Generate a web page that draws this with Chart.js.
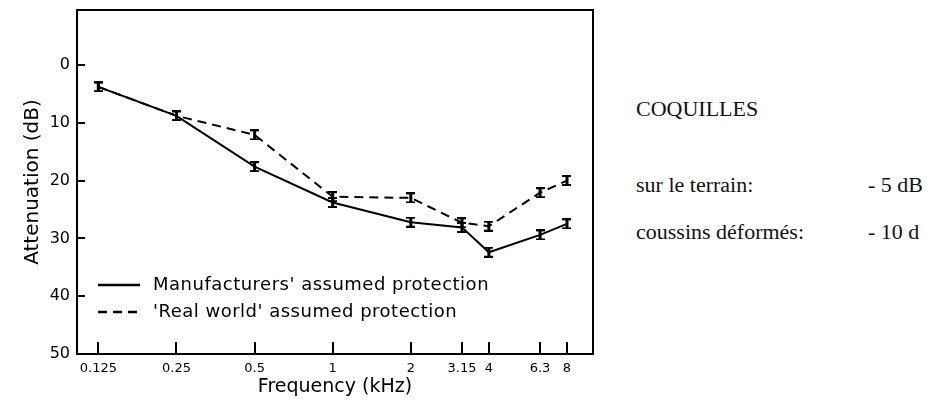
<!DOCTYPE html>
<html>
<head>
<meta charset="utf-8">
<script src="https://cdn.jsdelivr.net/npm/chart.js@4/dist/chart.umd.min.js"></script>
<style>
  html, body { margin: 0; padding: 0; background: #fff; }
  #wrap { position: relative; width: 941px; height: 401px; overflow: hidden; }
  #chartBox { position: absolute; left: 0; top: 0; width: 610px; height: 401px; }
  .note { position: absolute; font-family: "Liberation Serif", "Times New Roman", serif; font-size: 20px; line-height: 20px; color: #111; white-space: nowrap; transform: scaleX(1.1); transform-origin: left center; }
</style>
</head>
<body>
<div id="wrap">
  <div id="chartBox"><canvas id="attChart" width="610" height="401"></canvas></div>
  <div class="note" style="left:636px; top:99px;">COQUILLES</div>
  <div class="note" style="left:636px; top:175px;">sur le terrain:</div>
  <div class="note" style="left:868px; top:175px;">- 5 dB</div>
  <div class="note" style="left:636px; top:222px;">coussins déformés:</div>
  <div class="note" style="left:868px; top:222px;">- 10 d</div>
</div>
<script>
// ---------------------------------------------------------------
//  data
// ---------------------------------------------------------------
const freqs = [0.125, 0.25, 0.5, 1, 2, 3.15, 4, 6.3, 8];
const freqLabels = ['0.125', '0.25', '0.5', '1', '2', '3.15', '4', '6.3', '8'];
const manufacturers = [3.8, 8.8, 17.6, 23.8, 27.2, 28.1, 32.4, 29.4, 27.5];
const realWorld = [3.8, 8.8, 12.1, 22.8, 23.0, 27.3, 27.9, 22.1, 20.0];
const dbTicks = [0, 10, 20, 30, 40, 50];

const seriesNames = ["Manufacturers' assumed protection", "'Real world' assumed protection"];

const FONT = '"DejaVu Sans", sans-serif';

// small "I" shaped marker (the error bar at each point)
function makeMarker() {
  const c = document.createElement('canvas');
  c.width = 9; c.height = 11;
  const g = c.getContext('2d');
  g.fillStyle = '#000';
  g.fillRect(0, 0, 9, 2);
  g.fillRect(3, 0, 3, 11);
  g.fillRect(0, 9, 9, 2);
  return c;
}
const marker = makeMarker();

// frame around the plot + inward tick marks
const framePlugin = {
  id: 'frame',
  afterDraw(chart) {
    const { ctx, chartArea: a, scales } = chart;
    ctx.save();
    ctx.strokeStyle = '#000';
    ctx.lineWidth = 2;
    ctx.strokeRect(a.left, a.top, a.right - a.left, a.bottom - a.top);
    ctx.beginPath();
    freqs.forEach(f => {
      const x = Math.round(scales.x.getPixelForValue(f));
      ctx.moveTo(x, a.bottom);
      ctx.lineTo(x, a.bottom - 12);
    });
    dbTicks.forEach(v => {
      const y = Math.round(scales.y.getPixelForValue(v));
      ctx.moveTo(a.left, y);
      ctx.lineTo(a.left + 8, y);
    });
    ctx.stroke();
    ctx.restore();
  }
};

// legend drawn inside the plot, lower left
const innerLegend = {
  id: 'innerLegend',
  afterDraw(chart) {
    const { ctx, chartArea: a } = chart;
    const rows = [a.bottom - 69, a.bottom - 42];
    ctx.save();
    chart.data.datasets.forEach((ds, i) => {
      const y = rows[i];
      ctx.strokeStyle = '#000';
      ctx.lineWidth = 2.5;
      ctx.setLineDash(ds.borderDash || []);
      ctx.beginPath();
      ctx.moveTo(a.left + 21, y);
      ctx.lineTo(a.left + 63, y);
      ctx.stroke();
      ctx.setLineDash([]);
      ctx.fillStyle = '#000';
      ctx.font = '18px ' + FONT;
      ctx.letterSpacing = '0.5px';
      ctx.textBaseline = 'middle';
      ctx.fillText(ds.label, a.left + 76, y);
    });
    ctx.restore();
  }
};

new Chart(document.getElementById('attChart'), {
  type: 'line',
  data: {
    datasets: [
      {
        label: seriesNames[0],
        data: freqs.map((f, i) => ({ x: f, y: manufacturers[i] })),
        borderColor: '#000', borderWidth: 2, tension: 0,
        pointStyle: marker, pointRadius: 5
      },
      {
        label: seriesNames[1],
        data: freqs.map((f, i) => ({ x: f, y: realWorld[i] })),
        borderColor: '#000', borderWidth: 2, borderDash: [9, 6], tension: 0,
        pointStyle: marker, pointRadius: 5
      }
    ]
  },
  options: {
    responsive: false, animation: false,
    layout: { padding: { top: 10, right: 17, left: 0, bottom: 0 } },
    plugins: { legend: { display: false }, tooltip: { enabled: false } },
    scales: {
      x: {
        type: 'logarithmic', min: 0.1034, max: 10.08,
        grid: { display: false, drawTicks: false }, border: { display: false },
        afterBuildTicks: s => { s.ticks = freqs.map(v => ({ value: v })); },
        afterFit: s => { s.height = 47; s.paddingLeft = 0; s.paddingRight = 0; },
        ticks: {
          autoSkip: false, maxRotation: 0, padding: 7, color: '#000',
          font: { family: FONT, size: 13 },
          callback: (v) => freqLabels[freqs.indexOf(v)]
        },
        title: { display: true, text: 'Frequency (kHz)', color: '#000', padding: { top: 0, bottom: 3 }, font: { family: FONT, size: 19 } }
      },
      y: {
        reverse: true, min: -9.5, max: 50,
        grid: { display: false, drawTicks: false }, border: { display: false },
        afterBuildTicks: s => { s.ticks = dbTicks.map(v => ({ value: v })); },
        afterFit: s => { s.width = 77; s.paddingTop = 0; s.paddingBottom = 0; },
        ticks: { padding: 7, color: '#000', font: { family: FONT, size: 16 } },
        title: { display: true, text: 'Attenuation (dB)', color: '#000', padding: { top: 21, bottom: 0 }, font: { family: FONT, size: 20 } }
      }
    }
  },
  plugins: [framePlugin, innerLegend]
});
</script>
</body>
</html>
